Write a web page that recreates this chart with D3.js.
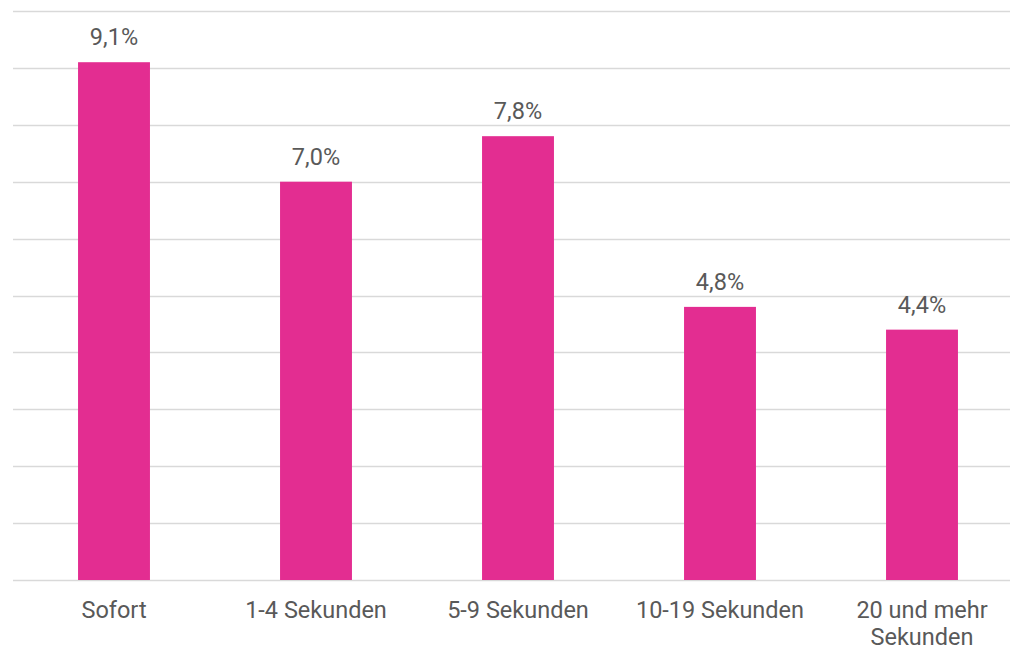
<!doctype html>
<html lang="de">
<head>
<meta charset="utf-8">
<title>Balkendiagramm</title>
<script src="https://d3js.org/d3.v7.min.js"></script>
<style>
  body { margin: 0; background: #fff; }
  text { font-family: Roboto, "Noto Sans", sans-serif; }
</style>
</head>
<body>
<div id="chart"></div>
<script>
const categories = [['Sofort'], ['1-4 Sekunden'], ['5-9 Sekunden'], ['10-19 Sekunden'], ['20 und mehr', 'Sekunden']]
const values = [9.1, 7.0, 7.8, 4.8, 4.4]
const yTicks = [0, 1, 2, 3, 4, 5, 6, 7, 8, 9, 10]

const width = 1010, height = 650
const marginLeft = 13, plotTop = 11, plotBottom = 580

const svg = d3.select('#chart').append('svg')
    .attr('width', width).attr('height', height)

const x = d3.scaleBand()
    .domain(d3.range(values.length))
    .range([marginLeft, marginLeft + 5 * 202])
    .paddingInner(0.644)
    .paddingOuter(0.322)

const y = d3.scaleLinear().domain([0, 10]).range([plotBottom, plotTop])

// gridlines
svg.append('g')
    .selectAll('line')
    .data(yTicks)
    .join('line')
    .attr('x1', marginLeft).attr('x2', width)
    .attr('y1', d => Math.round(y(d)) + 0.5)
    .attr('y2', d => Math.round(y(d)) + 0.5)
    .attr('stroke', '#d9d9d9')
    .attr('stroke-width', 1.5)

svg.append('g')
    .selectAll('rect')
    .data(values)
    .join('rect')
    .attr('x', (d, i) => x(i))
    .attr('width', x.bandwidth())
    .attr('y', d => y(d))
    .attr('height', d => plotBottom - y(d))
    .attr('fill', '#e32d91')

// value labels
svg.append('g')
    .selectAll('text')
    .data(values)
    .join('text')
    .attr('x', (d, i) => x(i) + x.bandwidth() / 2)
    .attr('y', d => y(d) - 17)
    .attr('text-anchor', 'middle')
    .attr('font-size', 23.5)
    .attr('fill', '#595959')
    .text(d => d.toFixed(1).replace('.', ',') + '%')

// category labels
const cat = svg.append('g')
    .selectAll('text')
    .data(categories)
    .join('text')
    .attr('x', (d, i) => x(i) + x.bandwidth() / 2)
    .attr('y', 618)
    .attr('text-anchor', 'middle')
    .attr('font-size', 23.5)
    .attr('fill', '#595959')

cat.selectAll('tspan')
    .data(d => d)
    .join('tspan')
    .attr('x', function () { return this.parentNode.getAttribute('x') })
    .attr('dy', (d, i) => i === 0 ? 0 : 27)
    .text(d => d)
</script>
</body>
</html>
